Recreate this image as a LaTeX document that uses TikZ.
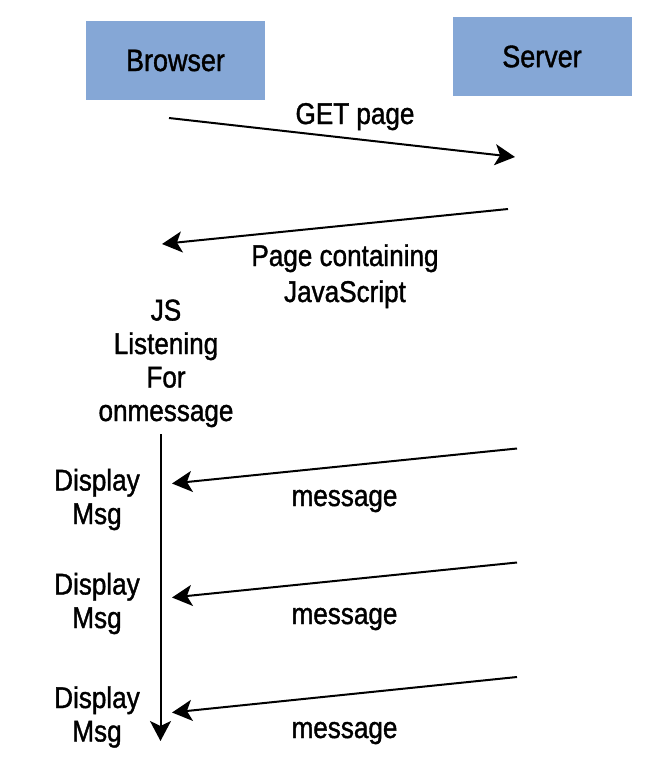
\documentclass[tikz,border=0pt]{standalone}
\usepackage{fontspec}
\setmainfont{Liberation Sans}[FakeStretch=0.87,FakeBold=1.2]
\usetikzlibrary{arrows.meta}
\definecolor{boxblue}{RGB}{133,167,214}
\tikzset{
  x=1pt, y=-1pt,
  box/.style={fill=boxblue, draw=none, minimum width=179pt, minimum height=79pt, inner sep=0pt,
    font=\fontsize{31}{34}\selectfont},
  lbl/.style={inner sep=0pt, align=center, anchor=base, font=\fontsize{30}{33.5}\selectfont},
  msgarrow/.style={line width=2pt, -{Stealth[length=20pt,width=21pt,inset=5pt]}},
}
\begin{document}
\begin{tikzpicture}
\useasboundingbox (0,0) rectangle (648,772);
\node[box] (browser) at (175.5,60.5) {Browser};
\node[box] (server) at (542,56.5) {Server};

\coordinate (g1) at (169,118);
\coordinate (g2) at (515,157);
\draw[msgarrow] (g1) -- (g2);
\node[lbl] (getlbl) at (355,124) {GET page};

\coordinate (r1) at (508,209);
\coordinate (r2) at (162,244);
\draw[msgarrow] (r1) -- (r2);
\node[lbl, font=\fontsize{30}{36}\selectfont] (resplbl) at (345,302) {Page containing\\JavaScript};

\node[lbl] (jslbl) at (166,421) {JS\\Listening\\For\\onmessage};

\coordinate (v1) at (160.5,434);
\coordinate (v2) at (160.5,741);
\draw[msgarrow] (v1) -- (v2);

\coordinate (m1s) at (517,448.5);
\coordinate (m1e) at (172,483.5);
\coordinate (m2s) at (517,562.5);
\coordinate (m2e) at (172,597.5);
\coordinate (m3s) at (517,677);
\coordinate (m3e) at (172,712.5);
\draw[msgarrow] (m1s) -- (m1e);
\draw[msgarrow] (m2s) -- (m2e);
\draw[msgarrow] (m3s) -- (m3e);

\node[lbl] (msg1) at (344.5,506) {message};
\node[lbl] (msg2) at (344.5,624) {message};
\node[lbl] (msg3) at (344.5,738) {message};

\node[lbl] (disp1) at (97,524) {Display\\Msg};
\node[lbl] (disp2) at (97,628) {Display\\Msg};
\node[lbl] (disp3) at (97,741.5) {Display\\Msg};
\end{tikzpicture}
\end{document}
